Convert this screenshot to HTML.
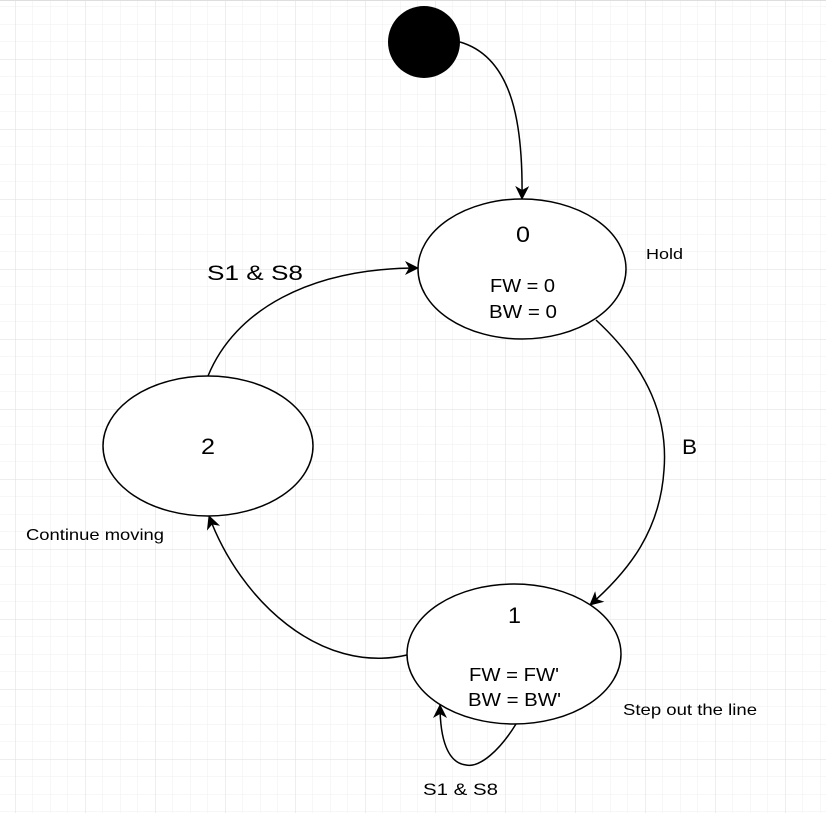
<!DOCTYPE html>
<html><head><style>
html,body{margin:0;padding:0;background:#fff;}
svg{display:block;}
text{font-family:"Liberation Sans",Arial,sans-serif;fill:#000;}
</style></head><body>
<svg width="826" height="813" viewBox="0 0 826 813" xmlns="http://www.w3.org/2000/svg">
<defs>
<pattern id="minor" x="15" y="59" width="17.5" height="17.5" patternUnits="userSpaceOnUse">
<path d="M0 0H17.5M0 0V17.5" stroke="#efefef" stroke-width="1" fill="none"/>
</pattern>
<pattern id="major" x="15" y="59" width="70" height="70" patternUnits="userSpaceOnUse">
<path d="M0 0H70M0 0V70" stroke="#dedede" stroke-width="1" fill="none"/>
</pattern>
<marker id="a" markerWidth="16" markerHeight="16" refX="13" refY="8" orient="auto" markerUnits="userSpaceOnUse">
<path d="M0,1 L14,8 L0,15 L4,8 Z" fill="#000"/>
</marker>
</defs>
<rect width="826" height="813" fill="url(#minor)"/>
<rect width="826" height="813" fill="url(#major)"/>
<line x1="0" y1="0.5" x2="826" y2="0.5" stroke="#dedede"/>

<g fill="none" stroke="#000" stroke-width="1.5">
<path d="M460,42 C515,58 523,130 522,199" marker-end="url(#a)"/>
<path d="M596,320 C650,370 668,420 664,470 C660,530 630,570 590,605" marker-end="url(#a)"/>
<path d="M407,655 C320,675 240,600 209,516" marker-end="url(#a)"/>
<path d="M208,376 C235,310 310,268 418,268" marker-end="url(#a)"/>
<path d="M516,724 C500,750 480,768 466,765 C448,763 440,740 440,705" marker-end="url(#a)"/>
</g>

<circle cx="424" cy="42" r="36" fill="#000"/>
<ellipse cx="522" cy="269" rx="104" ry="70" fill="#fff" stroke="#000" stroke-width="1.5"/>
<ellipse cx="208" cy="446" rx="105" ry="70" fill="#fff" stroke="#000" stroke-width="1.5"/>
<ellipse cx="514" cy="654" rx="107" ry="70" fill="#fff" stroke="#000" stroke-width="1.5"/>

<text x="516" y="242" font-size="22" textLength="14" lengthAdjust="spacingAndGlyphs">0</text>
<text x="490" y="292" font-size="18" textLength="65" lengthAdjust="spacingAndGlyphs">FW = 0</text>
<text x="489" y="318" font-size="18" textLength="68" lengthAdjust="spacingAndGlyphs">BW = 0</text>
<text x="201" y="454" font-size="22" textLength="14" lengthAdjust="spacingAndGlyphs">2</text>
<text x="508" y="623" font-size="22" textLength="13" lengthAdjust="spacingAndGlyphs">1</text>
<text x="469" y="681" font-size="18" textLength="90" lengthAdjust="spacingAndGlyphs">FW = FW'</text>
<text x="468" y="706" font-size="18" textLength="93" lengthAdjust="spacingAndGlyphs">BW = BW'</text>

<text x="646" y="259" font-size="15" textLength="37" lengthAdjust="spacingAndGlyphs">Hold</text>
<text x="207" y="280" font-size="21" textLength="96" lengthAdjust="spacingAndGlyphs">S1 &amp; S8</text>
<text x="682" y="454" font-size="21" textLength="15" lengthAdjust="spacingAndGlyphs">B</text>
<text x="26" y="540" font-size="16" textLength="138" lengthAdjust="spacingAndGlyphs">Continue moving</text>
<text x="623" y="715" font-size="16" textLength="134" lengthAdjust="spacingAndGlyphs">Step out the line</text>
<text x="423" y="795" font-size="17" textLength="75" lengthAdjust="spacingAndGlyphs">S1 &amp; S8</text>
</svg>
</body></html>
